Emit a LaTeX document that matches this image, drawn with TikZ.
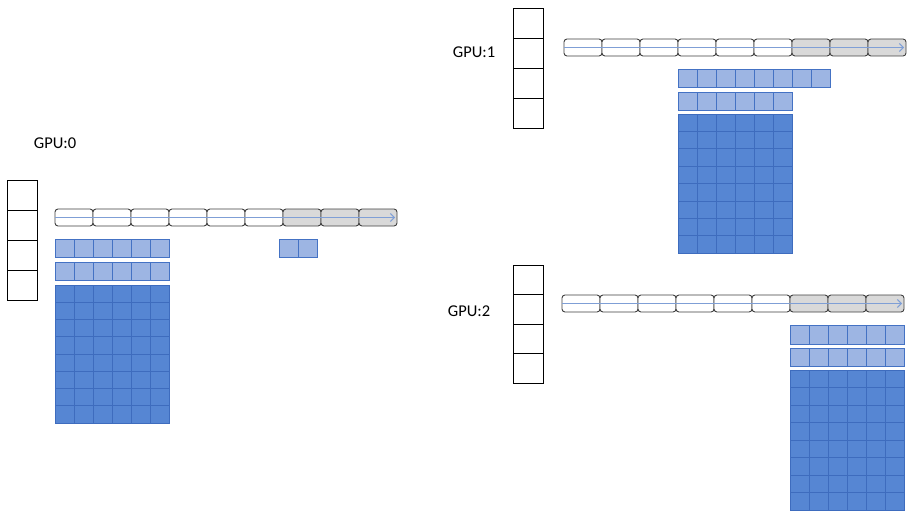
\documentclass[tikz,border=0pt]{standalone}
\usepackage{fontspec}
\setmainfont{Carlito}
\usetikzlibrary{arrows.meta}
\definecolor{lightcell}{HTML}{9DB5E3}
\definecolor{darkcell}{HTML}{5686D3}
\definecolor{cellline}{HTML}{4472C4}
\definecolor{darkline}{HTML}{3E6CBE}
\definecolor{graycell}{HTML}{D9D9D9}
\definecolor{barline}{HTML}{404040}
\definecolor{arrowblue}{HTML}{7F9FD6}
\tikzset{
  lightbox/.style={draw=cellline,fill=lightcell,line width=0.9pt},
  darkbox/.style={draw=darkline,fill=darkcell,line width=0.9pt},
  colbox/.style={draw=black,fill=white,line width=0.9pt},
  barwhite/.style={draw=barline,fill=white,rounded corners=3pt,line width=0.9pt},
  bargray/.style={draw=barline,fill=graycell,rounded corners=3pt,line width=0.9pt},
  flowline/.style={draw=arrowblue,line width=1pt,-{Straight Barb[length=4pt,width=8pt]}},
  gpulabel/.style={font=\fontsize{16.5}{18}\selectfont,inner sep=0pt}
}
% #1 x0, #2 y0, #3 cols, #4 rows, #5 w, #6 h, #7 style
\newcommand\cellgrid[7]{%
  \foreach \ci in {1,...,#3}{%
    \foreach \cj in {1,...,#4}{%
      \path[#7] ({#1+(\ci-1)*#5},{#2+(\cj-1)*#6}) rectangle ++(#5,#6);
    }}}
% #1 x0, #2 y0, #3 name
\newcommand\membar[3]{%
  \foreach \ci in {1,...,6}{\path[barwhite] ({#1+(\ci-1)*38},#2) rectangle ++(38,17);}
  \foreach \ci in {7,8,9}{\path[bargray] ({#1+(\ci-1)*38},#2) rectangle ++(38,17);}
  \coordinate (#3a) at (#1,{#2+8.5});
  \coordinate (#3b) at ({#1+340},{#2+8.5});
  \draw[flowline] (#3a) -- (#3b);
}
\begin{document}
\begin{tikzpicture}[x=1pt,y=-1pt]
\useasboundingbox[fill=white] (0,0) rectangle (909,516);

% GPU:0
\node[gpulabel] (g0) at (55,143) {GPU:0};
\cellgrid{7}{180}{1}{4}{30}{30}{colbox}
\membar{55}{209}{bz}
\cellgrid{55}{239}{6}{1}{19}{18}{lightbox}
\cellgrid{279}{239}{2}{1}{19}{18}{lightbox}
\cellgrid{55}{262}{6}{1}{19}{18}{lightbox}
\cellgrid{55}{285}{6}{8}{19}{17.25}{darkbox}

% GPU:1
\node[gpulabel] (g1) at (474,52) {GPU:1};
\cellgrid{513}{8}{1}{4}{30}{30}{colbox}
\membar{564}{39}{bo}
\cellgrid{678}{69}{8}{1}{19}{18}{lightbox}
\cellgrid{678}{92}{6}{1}{19}{18}{lightbox}
\cellgrid{678}{114}{6}{8}{19}{17.4}{darkbox}

% GPU:2
\node[gpulabel] (g2) at (469,311) {GPU:2};
\cellgrid{513}{265}{1}{4}{30}{29.5}{colbox}
\membar{562}{295}{bt}
\cellgrid{790}{325}{6}{1}{19}{19}{lightbox}
\cellgrid{790}{348}{6}{1}{19}{18}{lightbox}
\cellgrid{790}{370}{6}{8}{19}{17.5}{darkbox}
\end{tikzpicture}
\end{document}
